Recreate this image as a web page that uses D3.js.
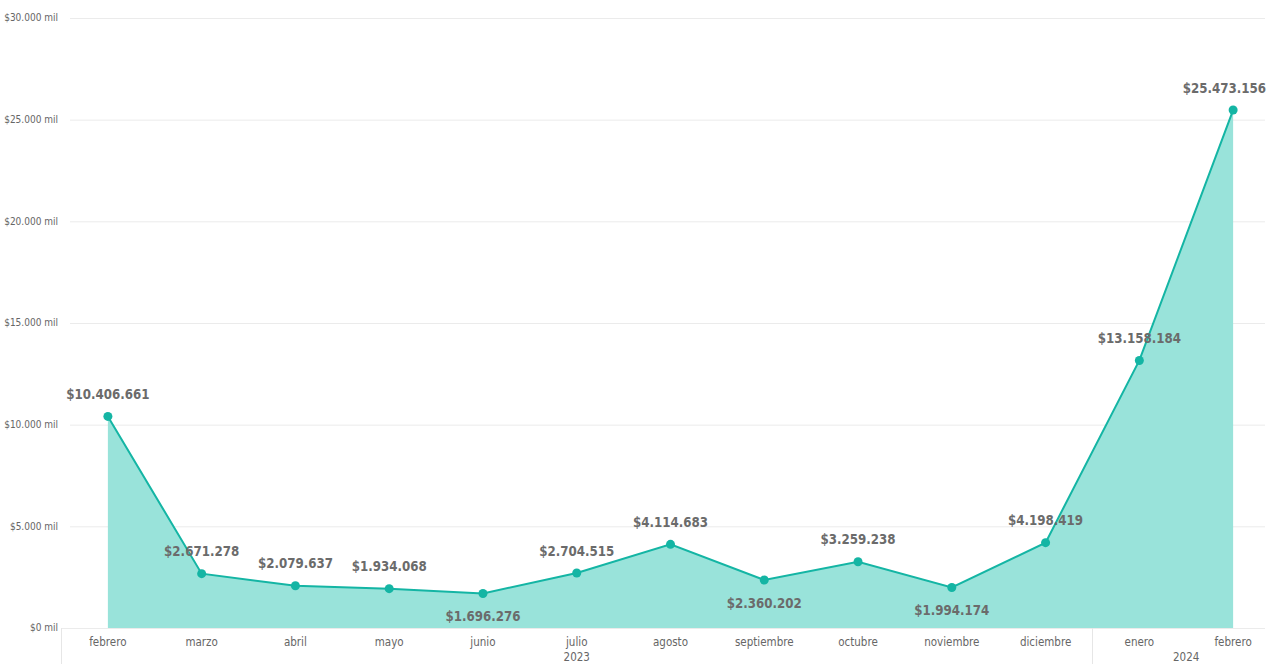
<!DOCTYPE html>
<html>
<head>
<meta charset="utf-8">
<script src="https://cdn.jsdelivr.net/npm/d3@7"></script>
<style>
  body { margin: 0; background: #fff; }
  text { font-family: "DejaVu Sans Condensed", "Roboto", sans-serif; }
</style>
</head>
<body>
<svg id="chart"></svg>
<script>
// datos
const months = ["febrero","marzo","abril","mayo","junio","julio","agosto","septiembre","octubre","noviembre","diciembre","enero","febrero"];
const years = ["2023","2023","2023","2023","2023","2023","2023","2023","2023","2023","2023","2024","2024"];
const values = [10406661, 2671278, 2079637, 1934068, 1696276, 2704515, 4114683, 2360202, 3259238, 1994174, 4198419, 13158184, 25473156];
const labelBelow = [false,false,false,false,true,false,false,true,false,true,false,false,false];
const yTicks = [0, 5000000, 10000000, 15000000, 20000000, 25000000, 30000000];

const width = 1272, height = 664;
const marginTop = 18, marginBottom = 36, marginLeft = 61;

const locale = d3.formatLocale({decimal: ",", thousands: ".", grouping: [3], currency: ["$", ""]});
const fmt = locale.format("$,.0f");
const fmtK = locale.format(",.0f");

const data = values.map((v, i) => ({key: i, month: months[i], year: years[i], value: v, below: labelBelow[i]}));

const xScale = d3.scaleBand(data.map(d => d.key), [marginLeft, 1280]);
const yScale = d3.scaleLinear([0, 30000000], [height - marginBottom, marginTop]);
const cx = d => xScale(d.key) + xScale.bandwidth() / 2;

const svg = d3.select("#chart")
  .attr("width", width)
  .attr("height", height)
  .attr("viewBox", [0, 0, width, height]);

// cuadrícula
svg.append("g")
  .selectAll("line")
  .data(yTicks)
  .join("line")
    .attr("x1", 70)
    .attr("x2", 1265)
    .attr("y1", d => yScale(d) + 0.5)
    .attr("y2", d => yScale(d) + 0.5)
    .attr("stroke", "#ebebeb");

// etiquetas eje y
svg.append("g")
  .attr("font-size", 10)
  .attr("fill", "#666")
  .selectAll("text")
  .data(yTicks)
  .join("text")
    .attr("x", 58)
    .attr("y", d => yScale(d))
    .attr("dy", "0.32em")
    .attr("text-anchor", "end")
    .text(d => "$" + fmtK(d / 1000) + " mil");

// área
const area = d3.area()
  .x(cx)
  .y0(yScale(0))
  .y1(d => yScale(d.value));
svg.append("path")
  .datum(data)
  .attr("fill", "#99e3da")
  .attr("d", area);

// línea
const line = d3.line()
  .x(cx)
  .y(d => yScale(d.value));
svg.append("path")
  .datum(data)
  .attr("fill", "none")
  .attr("stroke", "#14b5a4")
  .attr("stroke-width", 2)
  .attr("d", line);

svg.append("g")
  .attr("fill", "#14b5a4")
  .selectAll("circle")
  .data(data)
  .join("circle")
    .attr("cx", cx)
    .attr("cy", d => yScale(d.value))
    .attr("r", 4.5);

// etiquetas de datos
const labels = svg.append("g")
  .attr("font-size", 13.2)
  .attr("font-weight", "bold")
  .attr("fill", "#6b6b6b")
  .attr("text-anchor", "middle")
  .selectAll("text")
  .data(data)
  .join("text")
    .attr("x", cx)
    .attr("y", d => yScale(d.value) + (d.below ? 23 : -22))
    .attr("dy", "0.35em")
    .text(d => fmt(d.value));

// que no se salgan por la derecha
labels.each(function(d) {
  const w = this.getComputedTextLength();
  const right = cx(d) + w / 2;
  if (right > 1266) d3.select(this).attr("x", 1266 - w / 2);
});

// eje x
const axisY = height - marginBottom;
svg.append("line")
  .attr("x1", marginLeft).attr("x2", 1265)
  .attr("y1", axisY + 0.5).attr("y2", axisY + 0.5)
  .attr("stroke", "#ebebeb");

svg.append("g")
  .attr("font-size", 11.5)
  .attr("fill", "#666")
  .attr("text-anchor", "middle")
  .selectAll("text")
  .data(data)
  .join("text")
    .attr("x", cx)
    .attr("y", axisY + 14)
    .attr("dy", "0.32em")
    .text(d => d.month);

// grupos de año
const yearGroups = d3.groups(data, d => d.year);
const sep = svg.append("g").attr("stroke", "#e6e6e6");
yearGroups.forEach(([yr, arr]) => {
  const x0 = xScale(arr[0].key);
  const x1 = xScale(arr[arr.length - 1].key) + xScale.bandwidth();
  sep.append("line")
    .attr("x1", Math.round(x0) + 0.5).attr("x2", Math.round(x0) + 0.5)
    .attr("y1", axisY).attr("y2", height);
  svg.append("text")
    .attr("x", Math.min((x0 + x1) / 2, (x0 + 1233 + xScale.bandwidth() / 2) / 2))
    .attr("y", axisY + 29)
    .attr("dy", "0.32em")
    .attr("font-size", 11.5)
    .attr("fill", "#666")
    .attr("text-anchor", "middle")
    .text(yr);
});
</script>
</body>
</html>
